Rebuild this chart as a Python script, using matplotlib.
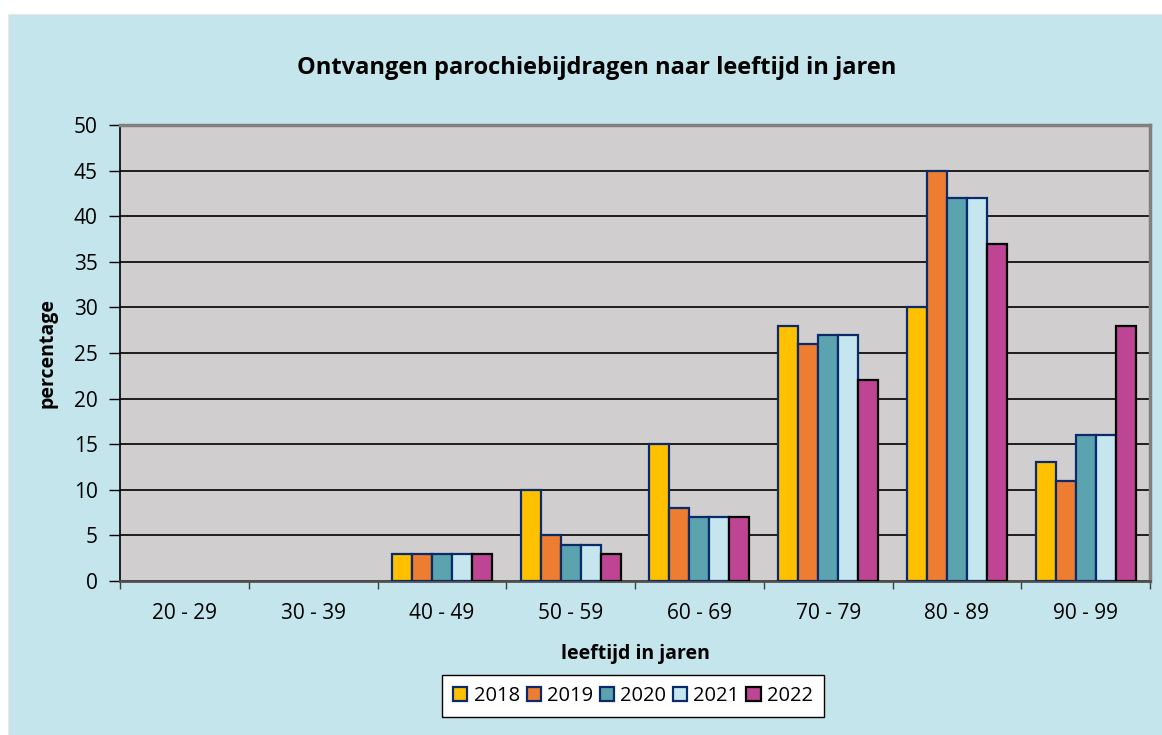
import numpy as np
import matplotlib.pyplot as plt
from matplotlib.patches import Rectangle

plt.rcParams['font.family'] = ['Open Sans', 'DejaVu Sans']

categories = ['20 - 29', '30 - 39', '40 - 49', '50 - 59', '60 - 69', '70 - 79', '80 - 89', '90 - 99']
years = ['2018', '2019', '2020', '2021', '2022']
v2018 = [0, 0, 3, 10, 15, 28, 30, 13]
v2019 = [0, 0, 3, 5, 8, 26, 45, 11]
v2020 = [0, 0, 3, 4, 7, 27, 42, 16]
v2021 = [0, 0, 3, 4, 7, 27, 42, 16]
v2022 = [0, 0, 3, 3, 7, 22, 37, 28]
series = [v2018, v2019, v2020, v2021, v2022]

colors = ['#FFC000', '#ED7D31', '#5BA4AF', '#C5E6EE', '#BD4594']
edges = ['#0B2A6A', '#0B2A6A', '#0B2A6A', '#0B2A6A', '#000000']

fig = plt.figure(figsize=(11.62, 7.35), dpi=100, facecolor='white')
# light blue chart area with thin white margin on top/left
fig.patches.append(Rectangle((8 / 1162, 0), 1, 1 - 14 / 735, transform=fig.transFigure,
                             facecolor='#C3E5EB', edgecolor='#E8E8E8', lw=0.8, zorder=-1))

ax = fig.add_axes([120 / 1162, 1 - 581 / 735, 1030 / 1162, 456 / 735])
ax.set_facecolor('#D0CECF')

x = np.arange(len(categories))
w = 0.155
for i, (vals, c, e, y) in enumerate(zip(series, colors, edges, years)):
    vals = np.array(vals)
    mask = vals > 0
    ax.bar(x[mask] + (i - 2) * w, vals[mask], width=w, color=c,
           edgecolor=e, linewidth=1.6, label=y, zorder=3)

ax.set_xlim(-0.5, len(categories) - 0.5)
ax.set_ylim(0, 50)
ax.set_yticks(np.arange(0, 51, 5))
ax.set_xticks(x)
ax.set_xticklabels(categories)
ax.set_xticks(np.arange(-0.5, len(categories), 1), minor=True)
ax.tick_params(axis='x', which='major', length=0, pad=16, labelsize=15)
ax.tick_params(axis='x', which='minor', length=6, width=1, color='#404040', direction='out')
ax.tick_params(axis='y', length=8, width=1, color='black', labelsize=15, pad=8)

ax.grid(axis='y', color='black', linewidth=1.2, zorder=1)
ax.set_axisbelow(True)
for s in ['top', 'right']:
    ax.spines[s].set_color('#808080')
    ax.spines[s].set_linewidth(2.5)
ax.spines['left'].set_color('black')
ax.spines['left'].set_linewidth(1.2)
ax.spines['bottom'].set_color('#505050')
ax.spines['bottom'].set_linewidth(2)

fig.text(597 / 1162, 1 - 68 / 735, 'Ontvangen parochiebijdragen naar leeftijd in jaren',
         ha='center', va='center', fontsize=17, fontweight='bold')
ax.set_xlabel('leeftijd in jaren', fontsize=14, fontweight='bold', labelpad=14)
ax.set_ylabel('percentage', fontsize=14, fontweight='bold', labelpad=12)

leg = fig.legend(loc='center', bbox_to_anchor=(633 / 1162, 1 - 696 / 735), ncol=5,
                 frameon=True, fancybox=False, edgecolor='black', facecolor='white',
                 framealpha=1, fontsize=14.5, handlelength=0.7, handleheight=0.7,
                 handletextpad=0.3, columnspacing=0.35, borderpad=0.55, borderaxespad=0)
leg.get_frame().set_linewidth(1)

fig.savefig('out.png', dpi=100, facecolor=fig.get_facecolor())
